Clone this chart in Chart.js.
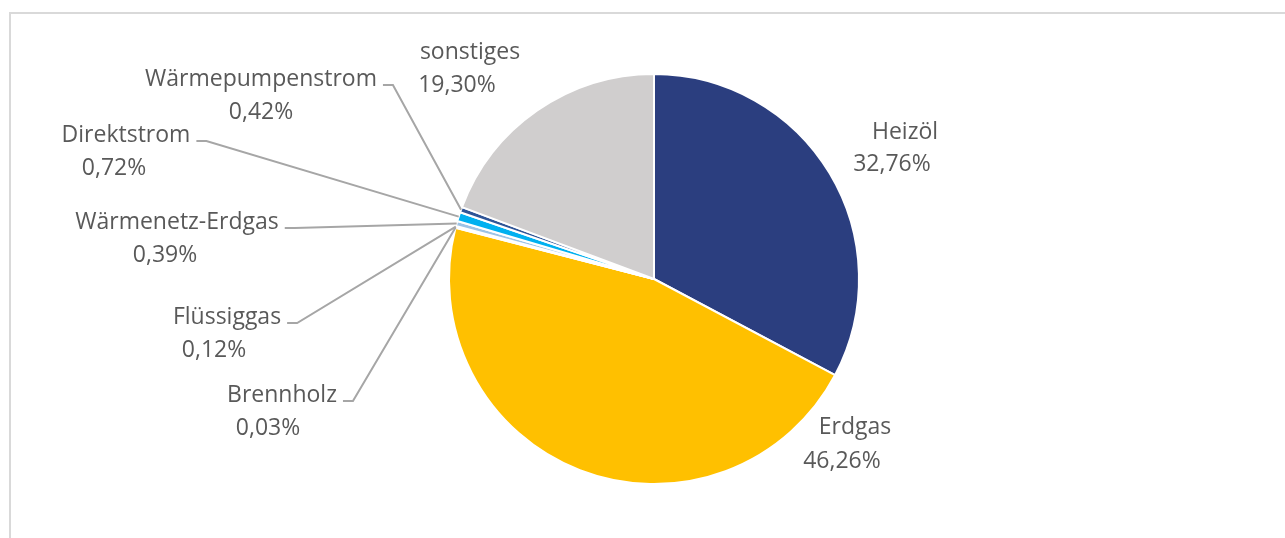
<!DOCTYPE html>
<html>
<head>
<meta charset="utf-8">
<title>Energieträger</title>
<script src="https://cdn.jsdelivr.net/npm/chart.js@4/dist/chart.umd.min.js"></script>
<style>
  html, body { margin: 0; padding: 0; background: #fff; }
  #wrap { width: 1285px; height: 538px; }
</style>
</head>
<body>
<div id="wrap"><canvas id="pie" width="1285" height="538"></canvas></div>
<script>
// Anteile der Energieträger (%), im Uhrzeigersinn ab 12 Uhr
const labels = ['Heizöl', 'Erdgas', 'Brennholz', 'Flüssiggas', 'Wärmenetz-Erdgas', 'Direktstrom', 'Wärmepumpenstrom', 'sonstiges'];
const shares = [32.76, 46.26, 0.03, 0.12, 0.39, 0.72, 0.42, 19.30];
const colors = ['#2B3E7F', '#FFC000', '#A5A5A5', '#5B9BD5', '#9DC3E6', '#00B0F0', '#2F5597', '#D0CECE'];

// Beschriftungen: [Name x, Name y, Wert x, Wert y, Führungslinie]
const labelPos = [
  [905, 132, 892, 164, false],
  [855, 427, 842, 461, false],
  [282, 395, 268, 428, true],
  [227, 317, 214, 350, true],
  [177, 222, 165, 255, true],
  [126, 135, 114, 168, true],
  [261, 79, 261, 112, true],
  [470, 52, 457, 85, false]
];

const fmt = v => v.toFixed(2).replace('.', ',') + '%';

const frame = {
  id: 'frame',
  beforeDraw(chart) {
    const c = chart.ctx;
    c.save();
    c.strokeStyle = '#D9D9D9';
    c.lineWidth = 2;
    c.beginPath();
    c.moveTo(10, chart.height + 2);
    c.lineTo(10, 13);
    c.lineTo(chart.width + 2, 13);
    c.stroke();
    c.restore();
  }
};

const callouts = {
  id: 'callouts',
  afterDatasetsDraw(chart) {
    const c = chart.ctx;
    const arcs = chart.getDatasetMeta(0).data;
    c.save();
    c.font = '23px "Open Sans"';
    c.fillStyle = '#595959';
    c.textAlign = 'center';
    c.textBaseline = 'middle';
    labels.forEach((name, i) => {
      const [nx, ny, vx, vy, leader] = labelPos[i];
      c.fillText(name, nx, ny);
      c.fillText(fmt(shares[i]), vx, vy);
      if (!leader) return;
      const a = arcs[i];
      const mid = (a.startAngle + a.endAngle) / 2;
      const px = a.x + Math.cos(mid) * a.outerRadius;
      const py = a.y + Math.sin(mid) * a.outerRadius;
      const sx = nx + c.measureText(name).width / 2 + 6;
      const sy = ny + 6;
      c.strokeStyle = '#A6A6A6';
      c.lineWidth = 2;
      c.beginPath();
      c.moveTo(sx, sy);
      c.lineTo(sx + 10, sy);
      c.lineTo(px, py);
      c.stroke();
    });
    c.restore();
  }
};

new Chart(document.getElementById('pie'), {
  type: 'pie',
  data: {
    labels: labels,
    datasets: [{
      data: shares,
      backgroundColor: colors,
      borderColor: '#FFFFFF',
      borderWidth: 2
    }]
  },
  options: {
    responsive: false,
    animation: false,
    layout: { padding: { top: 73, bottom: 53, left: 448, right: 425 } },
    plugins: {
      legend: { display: false },
      tooltip: { enabled: false }
    }
  },
  plugins: [frame, callouts]
});
</script>
</body>
</html>
